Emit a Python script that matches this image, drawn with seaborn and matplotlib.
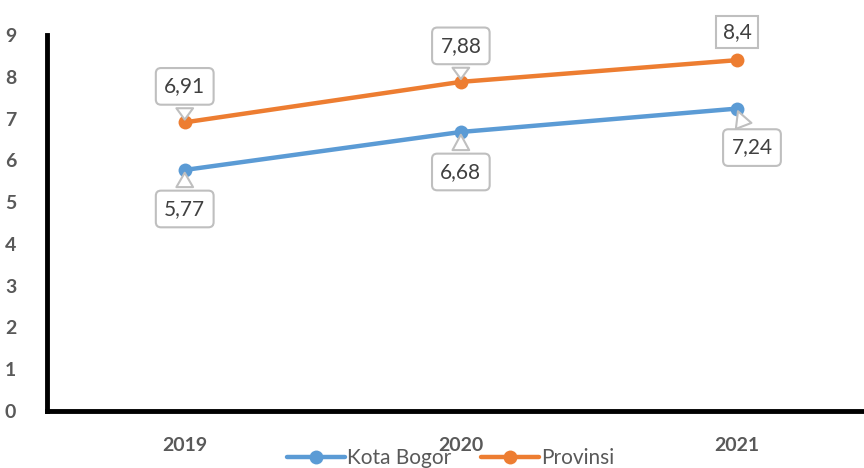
import matplotlib
matplotlib.use("Agg")
import matplotlib.pyplot as plt
import pandas as pd
import seaborn as sns

# data
years = ["2019", "2020", "2021"]
kota_bogor = [5.77, 6.68, 7.24]
provinsi = [6.91, 7.88, 8.4]
kota_labels = ["5,77", "6,68", "7,24"]
prov_labels = ["6,91", "7,88", "8,4"]

df = pd.DataFrame({
    "Tahun": years * 2,
    "Nilai": kota_bogor + provinsi,
    "Seri": ["Kota Bogor"] * 3 + ["Provinsi"] * 3,
})

sns.set_style("white")
plt.rcParams["font.family"] = ["Lato", "DejaVu Sans"]

fig = plt.figure(figsize=(8.64, 4.68), dpi=100)
ax = fig.add_axes([0.054, 0.122, 0.946, 0.803])

palette = {"Kota Bogor": "#5B9BD5", "Provinsi": "#ED7D31"}
sns.lineplot(data=df, x="Tahun", y="Nilai", hue="Seri", palette=palette,
             marker="o", markersize=10, markeredgewidth=0, linewidth=3.2,
             ax=ax, sort=False)

ax.set_ylim(0, 9)
ax.set_xlim(-0.5, 2.46)
ax.set_yticks(range(0, 10))
ax.set_xlabel("")
ax.set_ylabel("")
for s in ["top", "right"]:
    ax.spines[s].set_visible(False)
for s in ["left", "bottom"]:
    ax.spines[s].set_linewidth(3.5)
    ax.spines[s].set_color("black")
ax.tick_params(axis="both", length=0, labelsize=14, labelcolor="#595959")
ax.tick_params(axis="x", pad=19)
ax.tick_params(axis="y", pad=22)
for t in ax.get_xticklabels() + ax.get_yticklabels():
    t.set_fontweight("bold")

box = dict(boxstyle="round,pad=0.4,rounding_size=0.25", fc="white", ec="#BFBFBF", lw=1.5)
wedge = dict(arrowstyle="wedge,tail_width=0.8,shrink_factor=0.5", fc="white", ec="#BFBFBF", lw=1.5)

# (x offset px, y offset px) of callouts
prov_off = [(0, 36), (0, 36), (0, 28)]
kota_off = [(0, -39), (0, -40), (15, -39)]

for i, (v, lab) in enumerate(zip(provinsi, prov_labels)):
    kw = dict(arrowprops=wedge) if i < 2 else {}
    b = box if i < 2 else dict(boxstyle="square,pad=0.3", fc="white", ec="#BFBFBF", lw=1.5)
    ax.annotate(lab, (i, v), xytext=prov_off[i], textcoords="offset pixels",
                ha="center", va="center", fontsize=15, color="#404040",
                bbox=b, zorder=5, **kw)
for i, (v, lab) in enumerate(zip(kota_bogor, kota_labels)):
    ax.annotate(lab, (i, v), xytext=kota_off[i], textcoords="offset pixels",
                ha="center", va="center", fontsize=15, color="#404040",
                bbox=box, arrowprops=wedge, zorder=5)

leg = ax.legend(loc="center", bbox_to_anchor=(0.494, -0.125),
                ncol=2, frameon=False, fontsize=15, handlelength=2.8,
                handletextpad=0.1, columnspacing=1.4, borderaxespad=0)
for t in leg.get_texts():
    t.set_color("#595959")

fig.savefig("out.png", dpi=100)
